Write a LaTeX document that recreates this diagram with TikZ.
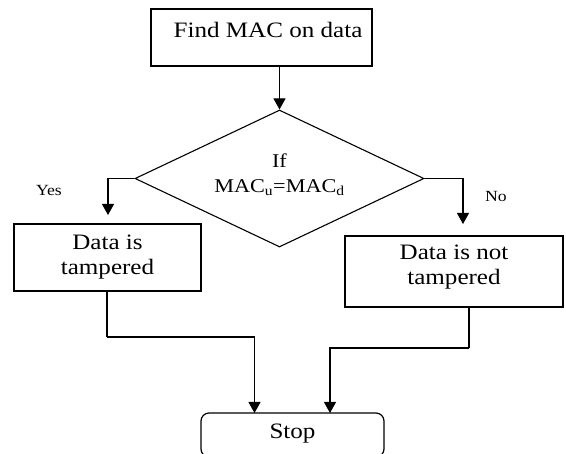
\documentclass[tikz,border=0pt]{standalone}
\usepackage{fontspec}
\setmainfont{Liberation Serif}[FakeStretch=1.14]
\usetikzlibrary{shapes.geometric,arrows.meta}
\tikzset{
  box/.style={draw, line width=1.2pt, rectangle, inner sep=0pt},
  txt/.style={font=\fontsize{22}{25}\selectfont, align=center, inner sep=0pt},
  small/.style={font=\fontsize{15.5}{18}\selectfont, inner sep=0pt},
  conn/.style={line width=1.1pt},
  arr/.style={conn, -{Triangle[width=12pt,length=11pt]}}
}
\begin{document}
\begin{tikzpicture}[x=1pt,y=-1pt]
\useasboundingbox (0,0) rectangle (566,454);
% top box
\node[box, minimum width=221pt, minimum height=57pt] (find) at (261.5,37.5) {};
\node[txt] (findtxt) at (268,30) {Find MAC on data};
% decision
\node[draw, line width=1.1pt, diamond, minimum width=289pt, minimum height=137pt, inner sep=0pt] (dec) at (279.5,178.5) {};
\node[txt, font=\fontsize{19.5}{25}\selectfont] (dectxt) at (279.5,174.5) {If\\MAC\textsubscript{u}=MAC\textsubscript{d}};
% yes box
\node[box, minimum width=187pt, minimum height=67pt] (yes) at (107.5,257.5) {};
\node[txt] (yestxt) at (107.5,257.5) {Data is\\tampered};
% no box
\node[box, minimum width=218pt, minimum height=71pt] (no) at (454,271.5) {};
\node[txt] (notxt) at (454,267.5) {Data is not\\tampered};
% stop
\node[draw, line width=1.2pt, rounded corners=8pt, minimum width=183pt, minimum height=44pt, inner sep=0pt] (stop) at (292.5,435) {};
\node[txt] (stoptxt) at (292.5,434) {Stop};
% labels
\node[small] (yeslbl) at (49,191) {Yes};
\node[small] (nolbl) at (496,197) {No};
% coordinates
\coordinate (yesend) at (108,215);
\coordinate (noend) at (463,224);
\coordinate (ystart) at (107,291);
\coordinate (ymid) at (107,337);
\coordinate (yin) at (254.5,413);
\coordinate (nstart) at (469,307);
\coordinate (nmid) at (469,348);
\coordinate (nin) at (330,413);
% connectors
\draw[arr] (dec.north |- find.south) -- (dec.north);
\draw[arr] (dec.west) -| (yesend);
\draw[arr] (dec.east) -| (noend);
\draw[conn] (ystart) -- (ymid);
\draw[arr] (ymid) -| (yin);
\draw[conn] (nstart) -- (nmid);
\draw[arr] (nmid) -| (nin);
\end{tikzpicture}
\end{document}
